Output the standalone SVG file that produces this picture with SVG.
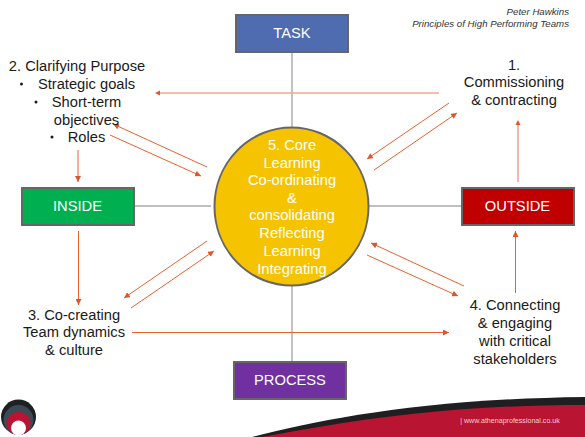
<svg xmlns="http://www.w3.org/2000/svg" width="585" height="437" viewBox="0 0 585 437">
<style>
text{font-family:"Liberation Sans",Arial,sans-serif;text-anchor:middle}
.l{font-size:14.7px;fill:#1a1a1a}
.b{font-size:14.7px;fill:#fff}
.box{stroke:#666;stroke-width:2}
.g{stroke:#808080;stroke-width:1.1;fill:none}
.v{stroke:#b5b5b5;stroke-width:1.6;fill:none}
.a{stroke:#e8622f;stroke-width:1;fill:none;marker-end:url(#h)}
.p{stroke:#f2a88e;stroke-width:1.6;fill:none}
</style>
<defs>
<marker id="h" markerUnits="userSpaceOnUse" markerWidth="7" markerHeight="6" refX="6" refY="3" orient="auto"><path d="M0 0L6 3L0 6Z" fill="#e0562a"/></marker>
</defs>
<rect width="585" height="437" fill="#fff"/>
<g id="footer">
<path d="M252 437C320 420 420 399 585 397V437Z" fill="#1f1f22"/>
<path d="M262 437C330 425 430 405 585 405V437Z" fill="#b91431"/>
<text x="510" y="423" style="font-size:7.1px;fill:#f0d0d6">| www.athenaprofessional.co.uk</text>
</g>
<g id="logo">
<circle cx="18.500" cy="417" r="17.500" fill="#1f2024"/>
<ellipse cx="18.500" cy="420" rx="15" ry="15" fill="#3b4a55"/>
<ellipse cx="18.500" cy="423.500" rx="12" ry="11.500" fill="#b91431"/>
<circle cx="18.500" cy="428" r="7.500" fill="#fff"/>
</g>
<g id="connectors">
<path class="v" d="M292 52V362"/>
<path class="g" d="M134 206H211"/>
<path class="g" d="M366 206H462"/>
<path class="p" d="M439 93H160"/>
<path d="M155 93L160 90.500V95.500Z" fill="#e0562a"/>
<path class="a" d="M207 167L113 124"/>
<path class="a" d="M110 135L201 176"/>
<path class="a" d="M78 150V182"/>
<path class="a" d="M449 103L367 159"/>
<path class="a" d="M374 170L457 113"/>
<path class="p" d="M518 182V124"/>
<path d="M518 120L520.500 125H515.500Z" fill="#e0562a"/>
<path class="a" d="M78.500 231V305"/>
<path class="a" d="M207 241L124 298"/>
<path class="a" d="M131 308L214 251"/>
<path class="a" d="M132 332.500H449"/>
<path class="a" d="M464 286L371 243"/>
<path class="a" d="M367 255L458 296"/>
<path class="a" d="M515.500 293V231"/>
</g>
<g id="task"><rect class="box" x="236" y="15" width="112" height="37" fill="#4f6cb0"/><text class="b" x="292" y="38">TASK</text></g>
<g id="inside"><rect class="box" x="22" y="188" width="112" height="37" fill="#00b050"/><text class="b" x="77.500" y="211">INSIDE</text></g>
<g id="outside"><rect class="box" x="462" y="188" width="112" height="37" fill="#c00000"/><text class="b" x="517.500" y="211">OUTSIDE</text></g>
<g id="process"><rect class="box" x="234" y="362" width="112" height="37" fill="#7030a0"/><text class="b" x="290" y="385">PROCESS</text></g>
<g id="core">
<ellipse cx="291.500" cy="206.500" rx="77" ry="79" fill="#f5c300" stroke="#666" stroke-width="2"/>
<text class="b"><tspan x="292" y="150">5. Core</tspan><tspan x="292" y="167.500">Learning</tspan><tspan x="292" y="185">Co-ordinating</tspan><tspan x="292" y="203">&amp;</tspan><tspan x="292" y="220">consolidating</tspan><tspan x="292" y="238">Reflecting</tspan><tspan x="292" y="255.500">Learning</tspan><tspan x="292" y="273.500">Integrating</tspan></text>
</g>
<g id="step1"><text class="l"><tspan x="514" y="70">1.</tspan><tspan x="514" y="87">Commissioning</tspan><tspan x="514" y="105">&amp; contracting</tspan></text></g>
<g id="step2"><text class="l"><tspan x="77" y="71">2. Clarifying Purpose</tspan><tspan x="86.500" y="89">Strategic goals</tspan><tspan x="86.500" y="107">Short-term</tspan><tspan x="86.500" y="125">objectives</tspan><tspan x="86.500" y="142">Roles</tspan></text>
<circle cx="21.500" cy="84" r="1.500" fill="#1a1a1a"/><circle cx="36" cy="102" r="1.500" fill="#1a1a1a"/><circle cx="52" cy="137" r="1.500" fill="#1a1a1a"/></g>
<g id="step3"><text class="l"><tspan x="74" y="320">3. Co-creating</tspan><tspan x="74" y="337">Team dynamics</tspan><tspan x="74" y="355">&amp; culture</tspan></text></g>
<g id="step4"><text class="l"><tspan x="515" y="310">4. Connecting</tspan><tspan x="515" y="328">&amp; engaging</tspan><tspan x="515" y="346">with critical</tspan><tspan x="515" y="364">stakeholders</tspan></text></g>
<g id="credit"><text style="font-size:9.7px;font-style:italic;text-anchor:end;fill:#333"><tspan x="569" y="15">Peter Hawkins</tspan><tspan x="569" y="27">Principles of High Performing Teams</tspan></text></g>
</svg>
